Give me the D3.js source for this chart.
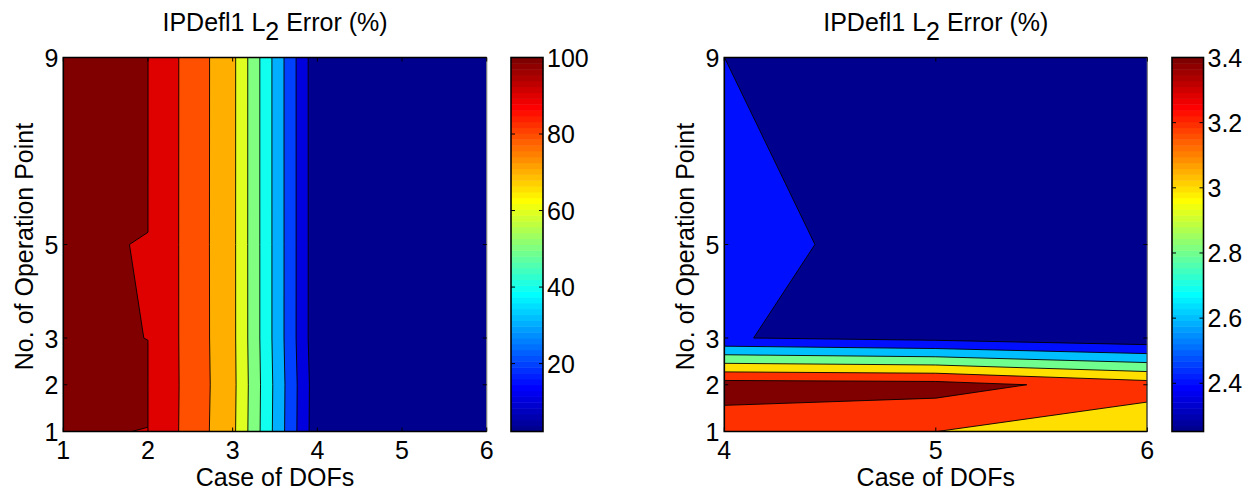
<!DOCTYPE html>
<html><head><meta charset="utf-8">
<script src="https://cdn.jsdelivr.net/npm/d3@7"></script>
<style>
body{margin:0;background:#fff}
text{font-family:"Liberation Sans",Arial,sans-serif;fill:#000}
</style>
</head><body>
<svg id="chart" width="1251" height="491"></svg>
<script>
// ---- data (IPDefl1 L2 error %, rows = operation points, columns = case of DOFs) ----
const caseDOFs = [1, 2, 3, 4, 5, 6];
const opPoints = [1, 2, 3, 5, 9];
const errOp1 = [100.0021, 99.9995, 72.4, 3.273, 3.201, 3.04];
const errOp2 = [100.005, 100.005, 72.8, 3.50, 3.48, 3.294];
const errOp3 = [100.005, 99.99974, 72.5, 2.409, 2.344, 2.252];
const errOp5 = [100.005, 99.9986, 72.45, 2.475, 2.30, 2.28];
const errOp9 = [100.01, 100.02, 72.5, 2.4001, 2.30, 2.28];
const zoomCases = [4, 5, 6];
const levelsAll = [10, 20, 30, 40, 50, 60, 70, 80, 90, 100];
const levelsZoom = [2.4, 2.6, 2.8, 3.0, 3.2, 3.4];
const xTicksAll = [1, 2, 3, 4, 5, 6];
const xTicksZoom = [4, 5, 6];
const yTicks = [1, 2, 3, 5, 9];
const cbTicksAll = [20, 40, 60, 80, 100];
const cbTicksZoom = [2.4, 2.6, 2.8, 3.0, 3.2, 3.4];
const titleMain = "IPDefl1 L";
const titleSub = "2";
const titleEnd = " Error (%)";
const xLabel = "Case of DOFs";
const yLabel = "No. of Operation Point";

const rowsAll = [errOp1, errOp2, errOp3, errOp5, errOp9];

// MATLAB jet(64)
function jet(k) {
  const u = j => (j < 1 || j > 47) ? 0 : (j <= 16 ? j / 16 : (j <= 31 ? 1 : (48 - j) / 16));
  const r = k >= 25 ? u(k - 24) : 0;
  const g = (k >= 9 && k <= 55) ? u(k - 8) : 0;
  const b = k <= 39 ? u(k + 8) : 0;
  return d3.rgb(Math.round(r * 255), Math.round(g * 255), Math.round(b * 255)).formatHex();
}
function cmapIndex(v, cmin, cmax) {
  let k = Math.floor((v - cmin) / (cmax - cmin) * 64) + 1;
  return Math.max(1, Math.min(64, k));
}

const svg = d3.select("#chart");
const FS = 25;

function panel(o) {
  const xs = o.xs, n = xs.length, m = opPoints.length;
  const cols = o.xs.map(v => caseDOFs.indexOf(v));
  const values = [];
  rowsAll.forEach(r => cols.forEach(c => values.push(r[c])));
  const zmin = d3.min(values);
  const cmax = o.levels[o.levels.length - 1];
  const col = v => jet(cmapIndex(v, zmin, cmax));

  const x = d3.scaleLinear().domain([xs[0], xs[n - 1]]).range([o.left, o.right]);
  const y = d3.scaleLinear().domain([opPoints[0], opPoints[m - 1]]).range([o.bottom, o.top]);
  const ix = d3.scaleLinear().domain(d3.range(n)).range(xs);
  const iy = d3.scaleLinear().domain(d3.range(m)).range(opPoints);

  const proj = d3.geoTransform({
    point(px, py) {
      const cx = Math.max(0, Math.min(n - 1, px - 0.5));
      const cy = Math.max(0, Math.min(m - 1, py - 0.5));
      this.stream.point(x(ix(cx)), y(iy(cy)));
    }
  });
  const path = d3.geoPath(proj);
  const contours = d3.contours().size([n, m]).thresholds(o.levels)(values);

  const g = svg.append("g");
  const clipId = "clip" + o.id;
  g.append("clipPath").attr("id", clipId).append("rect")
    .attr("x", o.left).attr("y", o.top).attr("width", o.right - o.left).attr("height", o.bottom - o.top);
  const pg = g.append("g").attr("clip-path", `url(#${clipId})`);
  pg.append("rect").attr("x", o.left).attr("y", o.top).attr("width", o.right - o.left)
    .attr("height", o.bottom - o.top).attr("fill", col(zmin));
  pg.selectAll("path.fill").data(contours).join("path").attr("class", "fill")
    .attr("d", path).attr("fill", d => col(d.value)).attr("stroke", "none");
  pg.selectAll("path.line").data(contours).join("path").attr("class", "line")
    .attr("d", path).attr("fill", "none").attr("stroke", "#000").attr("stroke-width", 0.9)
    .attr("stroke-linejoin", "round");

  // frame + ticks
  const TL = 4;
  g.append("path").attr("d", `M${o.right},${o.top}H${o.left}V${o.bottom}H${o.right}`)
    .attr("fill", "none").attr("stroke", "#000").attr("stroke-width", 1.6);
  g.append("line").attr("x1", o.right).attr("x2", o.right).attr("y1", o.top).attr("y2", o.bottom)
    .attr("stroke", "#777").attr("stroke-width", 1.2);
  o.xTicks.forEach(t => {
    g.append("line").attr("x1", x(t)).attr("x2", x(t)).attr("y1", o.bottom).attr("y2", o.bottom - TL).attr("stroke", "#000");
    g.append("line").attr("x1", x(t)).attr("x2", x(t)).attr("y1", o.top).attr("y2", o.top + TL).attr("stroke", "#000");
    g.append("text").attr("x", x(t)).attr("y", o.bottom + 27).attr("text-anchor", "middle")
      .attr("font-size", FS).text(d3.format("d")(t));
  });
  yTicks.forEach(t => {
    g.append("line").attr("x1", o.left).attr("x2", o.left + TL).attr("y1", y(t)).attr("y2", y(t)).attr("stroke", "#000");
    g.append("line").attr("x1", o.right).attr("x2", o.right - TL).attr("y1", y(t)).attr("y2", y(t)).attr("stroke", "#000");
    g.append("text").attr("x", o.left - 5).attr("y", y(t) + 9.5).attr("text-anchor", "end")
      .attr("font-size", FS).text(d3.format("d")(t));
  });
  const cx = (o.left + o.right) / 2;
  const tt = g.append("text").attr("x", cx).attr("y", 31).attr("text-anchor", "middle").attr("font-size", FS);
  tt.append("tspan").text(titleMain);
  tt.append("tspan").attr("dy", 9).text(titleSub);
  tt.append("tspan").attr("dy", -9).text(titleEnd);
  g.append("text").attr("x", cx).attr("y", 486).attr("text-anchor", "middle").attr("font-size", FS).text(xLabel);
  g.append("text").attr("transform", `translate(${o.left - 30},${(o.top + o.bottom) / 2 + 2}) rotate(-90)`)
    .attr("text-anchor", "middle").attr("font-size", FS).text(yLabel);

  // colorbar
  const cb = d3.scaleLinear().domain([zmin, cmax]).range([o.bottom, o.top]);
  const stripes = d3.range(1, 65);
  const sh = (o.bottom - o.top) / 64;
  g.selectAll("rect.cb").data(stripes).join("rect").attr("class", "cb")
    .attr("x", o.cbLeft).attr("width", o.cbRight - o.cbLeft)
    .attr("y", k => o.bottom - k * sh).attr("height", sh + 0.5).attr("fill", k => jet(k));
  g.append("rect").attr("x", o.cbLeft).attr("y", o.top).attr("width", o.cbRight - o.cbLeft)
    .attr("height", o.bottom - o.top).attr("fill", "none").attr("stroke", "#000").attr("stroke-width", 1.6);
  o.cbTicks.forEach(t => {
    g.append("line").attr("x1", o.cbLeft).attr("x2", o.cbLeft + TL).attr("y1", cb(t)).attr("y2", cb(t)).attr("stroke", "#000");
    g.append("line").attr("x1", o.cbRight).attr("x2", o.cbRight - TL).attr("y1", cb(t)).attr("y2", cb(t)).attr("stroke", "#000");
    g.append("text").attr("x", o.cbRight + 4).attr("y", cb(t) + 9).attr("font-size", FS).text(o.cbFmt(t));
  });
}

panel({ id: "a", xs: caseDOFs, levels: levelsAll, left: 63.3, right: 486.7, top: 57.5, bottom: 431.5,
        xTicks: xTicksAll, cbLeft: 511, cbRight: 543, cbTicks: cbTicksAll, cbFmt: d3.format("d") });
panel({ id: "b", xs: zoomCases, levels: levelsZoom, left: 724.3, right: 1147.3, top: 57.5, bottom: 431.5,
        xTicks: xTicksZoom, cbLeft: 1172, cbRight: 1203.5, cbTicks: cbTicksZoom, cbFmt: v => String(+v.toFixed(1)) });
</script>
</body></html>
